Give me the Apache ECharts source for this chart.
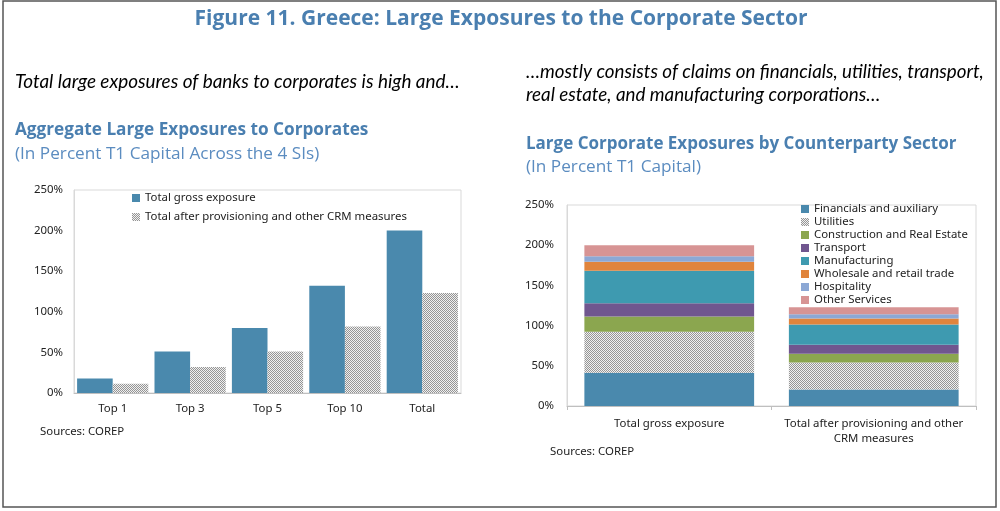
<!DOCTYPE html>
<html>
<head>
<meta charset="utf-8">
<script src="https://cdn.jsdelivr.net/npm/echarts@6/dist/echarts.min.js"></script>
<style>
  html, body { margin: 0; padding: 0; background: #fff; }
  #chart { width: 1000px; height: 511px; }
</style>
</head>
<body>
<div id="chart"></div>
<script>
// left panel: aggregate large exposures
var leftCategories = ['Top 1', 'Top 3', 'Top 5', 'Top 10', 'Total'];
var grossExposure = [18, 51, 80, 132, 200];
var afterCRM = [11.5, 32, 51, 82, 123];

// right panel: by counterparty sector
var rightCategories = ['Total gross exposure', 'Total after provisioning and other\nCRM measures'];
var financials = [41.5, 20.5];
var utilities = [51, 33.6];
var construction = [18.8, 10.8];
var transport = [16.6, 11.2];
var manufacturing = [40.3, 25.3];
var wholesale = [11.2, 7.4];
var hospitality = [7, 5.4];
var otherServices = [13.6, 8.7];

var yTicks = { min: 0, max: 250, interval: 50 };

var labelFont = 'Noto Sans';
var labelSize = 11.4;
var headFont = 'Open Sans';
var italicFont = 'Lato';
var blue = '#4a7fb0';

// gray dotted fill like the excel pattern
function makePattern() {
    var c = document.createElement('canvas');
    c.width = 4; c.height = 4;
    var ctx = c.getContext('2d');
    ctx.fillStyle = '#f0f0f0';
    ctx.fillRect(0, 0, 4, 4);
    ctx.fillStyle = '#959595';
    for (var y = 0; y < 4; y++) {
        for (var x = 0; x < 4; x++) {
            if ((x + y) % 2 == 0) ctx.fillRect(x, y, 1, 1);
        }
    }
    return { image: c, repeat: 'repeat' };
}
var dots = makePattern();

function txt(x, y, s, font, color, align) {
    return {
        type: 'text', x: x, y: y, silent: true,
        style: { text: s, font: font, fill: color || '#000', align: align || 'left', verticalAlign: 'middle' }
    };
}

var myChart = echarts.init(document.getElementById('chart'));

var axisLabel = { color: '#222', fontFamily: labelFont, fontSize: labelSize };
var legendText = { color: '#222', fontFamily: labelFont, fontSize: labelSize, lineHeight: 12 };

function stack(name, data, color) {
    return {
        name: name, type: 'bar', stack: 'sector', xAxisIndex: 1, yAxisIndex: 1,
        data: data, itemStyle: { color: color }, barCategoryGap: '17%'
    };
}

var option = {
    animation: false,
    graphic: [
        { type: 'rect', shape: { x: 3, y: 1, width: 993, height: 506 }, style: { fill: 'none', stroke: '#555', lineWidth: 1.5 }, silent: true },
        txt(501, 19, 'Figure 11. Greece: Large Exposures to the Corporate Sector', 'bold 21px ' + headFont, blue, 'center'),
        txt(15, 82, 'Total large exposures of banks to corporates is high and…', 'italic 18.9px ' + italicFont, '#000'),
        txt(15, 130, 'Aggregate Large Exposures to Corporates', 'bold 17.2px ' + headFont, blue),
        txt(15, 154, '(In Percent T1 Capital Across the 4 SIs)', '17.2px ' + headFont, '#5b8cc0'),
        txt(526, 72, '…mostly consists of claims on financials, utilities, transport,', 'italic 18.8px ' + italicFont, '#000'),
        txt(526, 95, 'real estate, and manufacturing corporations…', 'italic 18.8px ' + italicFont, '#000'),
        txt(526, 144, 'Large Corporate Exposures by Counterparty Sector', 'bold 17px ' + headFont, blue),
        txt(526, 167, '(In Percent T1 Capital)', '17.2px ' + headFont, '#5b8cc0'),
        txt(40, 432, 'Sources: COREP', labelSize + 'px ' + labelFont, '#222'),
        txt(550, 452, 'Sources: COREP', labelSize + 'px ' + labelFont, '#222')
    ],
    legend: [
        {
            left: 132, top: 192, padding: 0, orient: 'vertical', itemWidth: 8, itemHeight: 8, itemGap: 7,
            icon: 'rect', textStyle: legendText,
            data: ['Total gross exposure', 'Total after provisioning and other CRM measures']
        },
        {
            left: 801, top: 203, padding: 0, orient: 'vertical', itemWidth: 8, itemHeight: 8, itemGap: 1,
            icon: 'rect', textStyle: legendText,
            data: ['Financials and auxiliary', 'Utilities', 'Construction and Real Estate', 'Transport',
                   'Manufacturing', 'Wholesale and retail trade', 'Hospitality', 'Other Services']
        }
    ],
    grid: [
        { left: 74, right: 539, top: 190, bottom: 118, show: true, borderColor: '#d9d9d9', borderWidth: 1 },
        { left: 567, right: 24, top: 205, bottom: 105, show: true, borderColor: '#d9d9d9', borderWidth: 1 }
    ],
    xAxis: [
        {
            gridIndex: 0, type: 'category', data: leftCategories,
            axisLine: { lineStyle: { color: '#bfbfbf' } }, axisTick: { show: false },
            axisLabel: Object.assign({ margin: 10, interval: 0 }, axisLabel)
        },
        {
            gridIndex: 1, type: 'category', data: rightCategories,
            axisLine: { lineStyle: { color: '#bfbfbf' } },
            axisTick: { show: true, length: 4, lineStyle: { color: '#bfbfbf' } },
            axisLabel: Object.assign({ margin: 10, interval: 0, lineHeight: 15 }, axisLabel)
        }
    ],
    yAxis: [
        {
            gridIndex: 0, type: 'value', min: yTicks.min, max: yTicks.max, interval: yTicks.interval,
            axisLine: { show: true, lineStyle: { color: '#d9d9d9' } }, axisTick: { show: false },
            splitLine: { show: false },
            axisLabel: Object.assign({ formatter: '{value}%', margin: 11 }, axisLabel)
        },
        {
            gridIndex: 1, type: 'value', min: yTicks.min, max: yTicks.max, interval: yTicks.interval,
            axisLine: { show: true, lineStyle: { color: '#d9d9d9' } }, axisTick: { show: false },
            splitLine: { show: false },
            axisLabel: Object.assign({ formatter: '{value}%', margin: 13 }, axisLabel)
        }
    ],
    series: [
        {
            name: 'Total gross exposure', type: 'bar', xAxisIndex: 0, yAxisIndex: 0,
            data: grossExposure, itemStyle: { color: '#4a89ad' }, barGap: '0%', barCategoryGap: '8%'
        },
        {
            name: 'Total after provisioning and other CRM measures', type: 'bar', xAxisIndex: 0, yAxisIndex: 0,
            data: afterCRM, itemStyle: { color: dots }, barGap: '0%', barCategoryGap: '8%'
        },
        stack('Financials and auxiliary', financials, '#4a89ad'),
        stack('Utilities', utilities, dots),
        stack('Construction and Real Estate', construction, '#8ba64f'),
        stack('Transport', transport, '#70568f'),
        stack('Manufacturing', manufacturing, '#3e9ab0'),
        stack('Wholesale and retail trade', wholesale, '#e0843c'),
        stack('Hospitality', hospitality, '#8ca8d5'),
        stack('Other Services', otherServices, '#d79494')
    ]
};

myChart.setOption(option);
</script>
</body>
</html>
